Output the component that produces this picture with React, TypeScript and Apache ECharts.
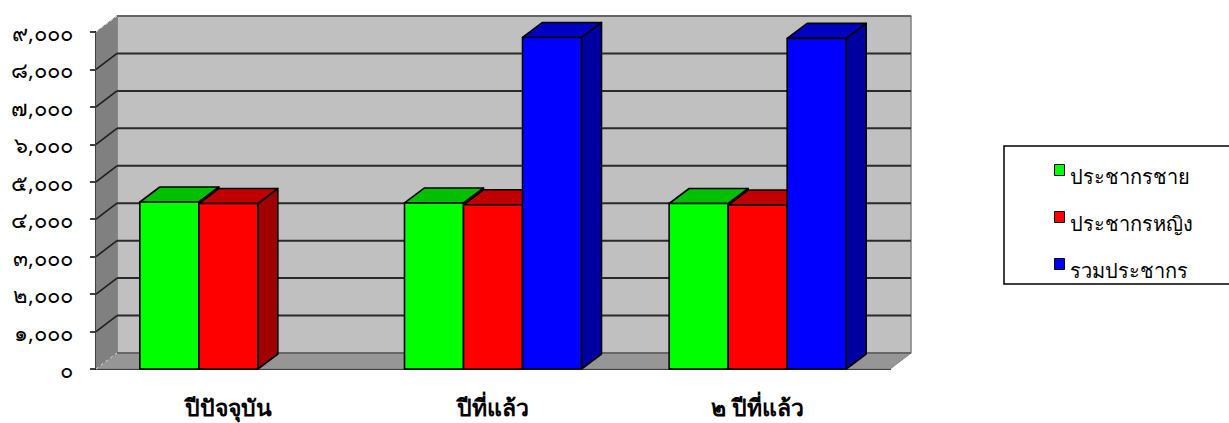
import React, { useEffect, useRef } from "react";
import * as echarts from "echarts";

const categories = ["ปีปัจจุบัน", "ปีที่แล้ว", "๒ ปีที่แล้ว"];
const maleValues = [4460, 4434, 4420];
const femaleValues = [4420, 4385, 4380];
const totalValues: (number | null)[] = [null, 8854, 8830];
const tickLabels = ["๐", "๑,๐๐๐", "๒,๐๐๐", "๓,๐๐๐", "๔,๐๐๐", "๕,๐๐๐", "๖,๐๐๐", "๗,๐๐๐", "๘,๐๐๐", "๙,๐๐๐"];
const tickValues = [0, 1000, 2000, 3000, 4000, 5000, 6000, 7000, 8000, 9000];
const seriesNames = ["ประชากรชาย", "ประชากรหญิง", "รวมประชากร"];

const BAR_W = 59;
const DX = 20;
const DY = -15;
const WALL_DX = 21;
const WALL_DY = -16;
const FONT = "'Noto Sans', 'DejaVu Sans', sans-serif";
// Legend swatch sits in the upper part of its item, so it rides above the text's centre.
const LEGEND_ICON = "path://M0,0 L10,0 L10,11 L0,11 Z M0,23 L0,23 Z";

const poly = (points: number[][], fill: string, stroke = "#000", lineWidth = 1.6) => ({
  type: "polygon",
  shape: { points },
  style: { fill, stroke, lineWidth, lineJoin: "round" },
});

const seg = (x1: number, y1: number, x2: number, y2: number, stroke: string, lineWidth: number, lineDash?: number[]) => ({
  type: "line",
  shape: { x1, y1, x2, y2 },
  style: { stroke, lineWidth, lineDash },
});

const barSeries = (name: string, values: (number | null)[], idx: number, front: string, top: string, side: string) => ({
  type: "custom",
  name,
  z: 5,
  clip: false,
  itemStyle: { color: front },
  encode: { x: 0, y: 1 },
  data: values.map((v, i) => (v === null ? [i, "-"] : [i, v])),
  renderItem: (_p: any, api: any) => {
    const v = api.value(1);
    if (typeof v !== "number" || isNaN(v)) return null;
    const [cx, yTop] = api.coord([api.value(0), v]);
    const [, y0] = api.coord([api.value(0), 0]);
    const x0 = cx - 1.5 * BAR_W + idx * BAR_W;
    const x1 = x0 + BAR_W;
    return {
      type: "group",
      children: [
        poly([[x1, y0], [x1 + DX, y0 + DY], [x1 + DX, yTop + DY], [x1, yTop]], side),
        poly([[x0, yTop], [x0 + DX, yTop + DY], [x1 + DX, yTop + DY], [x1, yTop]], top),
        poly([[x0, y0], [x1, y0], [x1, yTop], [x0, yTop]], front),
      ],
    };
  },
});

const wallSeries = {
  type: "custom",
  silent: true,
  z: 1,
  clip: false,
  encode: { x: 0, y: 1 },
  data: [[0, 0]],
  renderItem: (params: any, api: any) => {
    const cs = params.coordSys;
    const l = cs.x;
    const r = cs.x + cs.width;
    const yOf = (v: number) => api.coord([0, v])[1];
    const yB = yOf(0);
    const yT = yOf(9000);
    const lb = l + WALL_DX;
    const rb = r + WALL_DX;
    const children: any[] = [
      poly([[lb, yT + WALL_DY], [rb, yT + WALL_DY], [rb, yB + WALL_DY], [lb, yB + WALL_DY]], "#c0c0c0", "#808080", 1.5),
      poly([[l, yT], [lb, yT + WALL_DY], [lb, yB + WALL_DY], [l, yB]], "#808080", "#808080", 1),
      poly([[l, yB], [lb, yB + WALL_DY], [rb, yB + WALL_DY], [r, yB]], "#969696", "#808080", 1),
    ];
    tickValues.forEach((v) => {
      const y = yOf(v);
      if (v > 0 && v < 9000) {
        children.push(seg(l, y, lb, y + WALL_DY, "#1e1e1e", 1.6));
        children.push(seg(lb, y + WALL_DY, rb, y + WALL_DY, "#2a2a2a", 2));
      }
    });
    children.push(seg(lb, yB + WALL_DY, rb, yB + WALL_DY, "#444", 1.2));
    children.push(seg(l, yB, lb, yB + WALL_DY, "#ddd", 1, [3, 3]));
    children.push(seg(l, yT, lb, yT + WALL_DY, "#ddd", 1, [3, 3]));
    children.push(seg(lb, yT + WALL_DY, rb, yT + WALL_DY, "#555", 1.4));
    return { type: "group", children };
  },
};

export default function App() {
  const ref = useRef<HTMLDivElement>(null);
  useEffect(() => {
    document.body.style.margin = "0";
    const chart = echarts.init(ref.current!, undefined, { renderer: "svg" });
    chart.setOption({
      animation: false,
      backgroundColor: "#fff",
      grid: { left: 96, top: 32, width: 794, height: 337, containLabel: false },
      legend: {
        orient: "vertical",
        left: 1004,
        top: 146,
        data: seriesNames,
        backgroundColor: "#fff",
        borderColor: "#000",
        borderWidth: 1.5,
        padding: [18, 60, 2, 50],
        itemWidth: 10,
        itemHeight: 23,
        itemGap: 23,
        icon: LEGEND_ICON,
        selectedMode: false,
        itemStyle: { borderColor: "#000", borderWidth: 1 },
        textStyle: { fontFamily: FONT, fontSize: 20, lineHeight: 20, color: "#000", padding: [0, 0, 0, 0] },
      },
      xAxis: {
        type: "category",
        data: categories,
        axisLine: { show: true, lineStyle: { color: "#000", width: 2 } },
        axisTick: { show: false },
        axisLabel: { fontFamily: FONT, fontSize: 23, lineHeight: 20, fontWeight: "bold", color: "#000", margin: 28 },
      },
      yAxis: {
        type: "value",
        min: 0,
        max: 9000,
        interval: 1000,
        splitLine: { show: false },
        axisLine: { show: true, lineStyle: { color: "#000", width: 2 } },
        axisTick: { show: true, length: 6, lineStyle: { color: "#000", width: 1.5 } },
        axisLabel: {
          fontFamily: FONT,
          fontSize: 22,
          color: "#000",
          margin: 23,
          formatter: (v: number) => tickLabels[tickValues.indexOf(v)],
        },
      },
      series: [
        wallSeries,
        barSeries(seriesNames[0], maleValues, 0, "#00ff00", "#00c000", "#00a000"),
        barSeries(seriesNames[1], femaleValues, 1, "#ff0000", "#c00000", "#a00000"),
        barSeries(seriesNames[2], totalValues, 2, "#0000ff", "#0000c0", "#0000a0"),
      ],
    });
    return () => chart.dispose();
  }, []);
  return <div ref={ref} style={{ width: 1229, height: 423 }} />;
}
